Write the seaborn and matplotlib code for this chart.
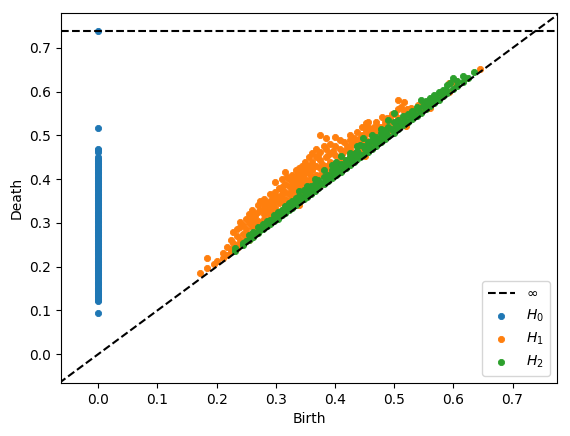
import numpy as np
import pandas as pd
import seaborn as sns
from matplotlib import pyplot as plt

# H0: all born at 0, deaths (last one is the infinite class)
h0_deaths = [0.094, 0.121, 0.124, 0.126, 0.130, 0.133, 0.135, 0.138, 0.140, 0.144,
             0.147, 0.150, 0.152, 0.156, 0.160, 0.163, 0.166, 0.170, 0.173, 0.177,
             0.180, 0.183, 0.186, 0.190, 0.193, 0.197, 0.200, 0.204, 0.207, 0.211,
             0.214, 0.217, 0.220, 0.224, 0.228, 0.231, 0.235, 0.238, 0.241, 0.245,
             0.248, 0.252, 0.255, 0.259, 0.262, 0.266, 0.270, 0.273, 0.276, 0.280,
             0.283, 0.287, 0.290, 0.294, 0.297, 0.301, 0.305, 0.308, 0.312, 0.315,
             0.318, 0.322, 0.325, 0.329, 0.333, 0.337, 0.340, 0.343, 0.346, 0.350,
             0.353, 0.357, 0.360, 0.364, 0.367, 0.371, 0.375, 0.378, 0.382, 0.385,
             0.388, 0.392, 0.395, 0.399, 0.402, 0.406, 0.410, 0.413, 0.416, 0.420,
             0.423, 0.427, 0.430, 0.434, 0.437, 0.441, 0.444, 0.447, 0.450, 0.463,
             0.466, 0.470, 0.518, np.inf]

# H1 (birth, death)
h1 = [(0.172, 0.186), (0.184, 0.220), (0.184, 0.196), (0.195, 0.205), (0.201, 0.212),
      (0.211, 0.232), (0.211, 0.220), (0.218, 0.226), (0.218, 0.245), (0.225, 0.240),
      (0.225, 0.262), (0.225, 0.235), (0.228, 0.280), (0.228, 0.255), (0.235, 0.270),
      (0.235, 0.250), (0.235, 0.285), (0.235, 0.243), (0.240, 0.303), (0.240, 0.290),
      (0.240, 0.260), (0.245, 0.275), (0.245, 0.296), (0.245, 0.255), (0.250, 0.310),
      (0.250, 0.285), (0.250, 0.268), (0.255, 0.300), (0.255, 0.320), (0.255, 0.275),
      (0.255, 0.262), (0.260, 0.330), (0.260, 0.290), (0.260, 0.310), (0.260, 0.270),
      (0.265, 0.315), (0.265, 0.300), (0.265, 0.280), (0.270, 0.340), (0.270, 0.325),
      (0.270, 0.305), (0.270, 0.290), (0.270, 0.280), (0.274, 0.349), (0.274, 0.330),
      (0.274, 0.300), (0.280, 0.355), (0.280, 0.340), (0.280, 0.320), (0.280, 0.310),
      (0.280, 0.293), (0.285, 0.345), (0.285, 0.330), (0.285, 0.300), (0.290, 0.365),
      (0.290, 0.350), (0.290, 0.335), (0.290, 0.315), (0.290, 0.305), (0.295, 0.360),
      (0.295, 0.340), (0.295, 0.325), (0.295, 0.310), (0.299, 0.394), (0.299, 0.370),
      (0.299, 0.352), (0.299, 0.335), (0.299, 0.318), (0.305, 0.380), (0.305, 0.360),
      (0.305, 0.345), (0.305, 0.325), (0.305, 0.315), (0.310, 0.400), (0.310, 0.375),
      (0.310, 0.365), (0.310, 0.350), (0.310, 0.330), (0.310, 0.320), (0.316, 0.417),
      (0.316, 0.390), (0.316, 0.370), (0.316, 0.355), (0.316, 0.340), (0.316, 0.326),
      (0.322, 0.400), (0.322, 0.385), (0.322, 0.365), (0.322, 0.350), (0.322, 0.335),
      (0.328, 0.410), (0.328, 0.395), (0.328, 0.380), (0.328, 0.360), (0.328, 0.345),
      (0.328, 0.338), (0.334, 0.420), (0.334, 0.400), (0.334, 0.385), (0.334, 0.370),
      (0.334, 0.355), (0.334, 0.345), (0.340, 0.425), (0.340, 0.410), (0.340, 0.395),
      (0.340, 0.375), (0.340, 0.360), (0.340, 0.350), (0.345, 0.422), (0.345, 0.430),
      (0.345, 0.405), (0.345, 0.390), (0.345, 0.370), (0.345, 0.358), (0.350, 0.440),
      (0.350, 0.420), (0.350, 0.400), (0.350, 0.385), (0.350, 0.370), (0.350, 0.360),
      (0.356, 0.450), (0.356, 0.430), (0.356, 0.415), (0.356, 0.395), (0.356, 0.380),
      (0.356, 0.368), (0.362, 0.460), (0.362, 0.440), (0.362, 0.420), (0.362, 0.405),
      (0.362, 0.390), (0.362, 0.375), (0.368, 0.470), (0.368, 0.450), (0.368, 0.430),
      (0.368, 0.410), (0.368, 0.395), (0.368, 0.380), (0.375, 0.502), (0.375, 0.463),
      (0.375, 0.445), (0.375, 0.425), (0.375, 0.410), (0.375, 0.390), (0.384, 0.495),
      (0.384, 0.470), (0.384, 0.450), (0.384, 0.430), (0.384, 0.415), (0.384, 0.400),
      (0.392, 0.480), (0.392, 0.460), (0.392, 0.440), (0.392, 0.425), (0.392, 0.410),
      (0.400, 0.497), (0.400, 0.475), (0.400, 0.455), (0.400, 0.435), (0.400, 0.420),
      (0.408, 0.490), (0.408, 0.470), (0.408, 0.450), (0.408, 0.430), (0.416, 0.485),
      (0.416, 0.465), (0.416, 0.445), (0.416, 0.435), (0.426, 0.502), (0.426, 0.490),
      (0.426, 0.470), (0.426, 0.455), (0.426, 0.440), (0.432, 0.495), (0.432, 0.480),
      (0.432, 0.460), (0.432, 0.450), (0.438, 0.509), (0.438, 0.490), (0.438, 0.475),
      (0.438, 0.460), (0.445, 0.520), (0.445, 0.500), (0.445, 0.480), (0.445, 0.465),
      (0.452, 0.529), (0.452, 0.510), (0.452, 0.490), (0.452, 0.475), (0.455, 0.530),
      (0.455, 0.520), (0.462, 0.515), (0.462, 0.500), (0.462, 0.485), (0.470, 0.530),
      (0.470, 0.510), (0.470, 0.490), (0.480, 0.543), (0.480, 0.520), (0.480, 0.500),
      (0.488, 0.540), (0.488, 0.520), (0.488, 0.505), (0.497, 0.550), (0.497, 0.530),
      (0.497, 0.515), (0.506, 0.582), (0.506, 0.560), (0.506, 0.540), (0.506, 0.525),
      (0.516, 0.577), (0.516, 0.555), (0.516, 0.535), (0.528, 0.563), (0.528, 0.550),
      (0.528, 0.540), (0.540, 0.570), (0.540, 0.555), (0.550, 0.575), (0.550, 0.560),
      (0.560, 0.580), (0.560, 0.570), (0.570, 0.590), (0.570, 0.580), (0.580, 0.600),
      (0.580, 0.590), (0.592, 0.620), (0.592, 0.600), (0.605, 0.625), (0.605, 0.615),
      (0.620, 0.632), (0.645, 0.653), (0.340, 0.342), (0.450, 0.452), (0.520, 0.522),
      (0.560, 0.562), (0.262, 0.322), (0.278, 0.330), (0.288, 0.325), (0.302, 0.360),
      (0.313, 0.385), (0.319, 0.405), (0.325, 0.372), (0.331, 0.392), (0.337, 0.412),
      (0.343, 0.382), (0.348, 0.412), (0.353, 0.430), (0.359, 0.405), (0.365, 0.430),
      (0.371, 0.455), (0.378, 0.435), (0.381, 0.475), (0.388, 0.455), (0.396, 0.465),
      (0.404, 0.440), (0.412, 0.458), (0.420, 0.475), (0.429, 0.480), (0.442, 0.495),
      (0.449, 0.500), (0.458, 0.505), (0.466, 0.520), (0.475, 0.520), (0.484, 0.530),
      (0.493, 0.540), (0.502, 0.550), (0.511, 0.565), (0.522, 0.560)]

# H2 (birth, death)
h2 = [(0.231, 0.243), (0.231, 0.236), (0.245, 0.249), (0.245, 0.255), (0.255, 0.262),
      (0.255, 0.272), (0.262, 0.268), (0.262, 0.280), (0.270, 0.278), (0.270, 0.290),
      (0.278, 0.285), (0.278, 0.298), (0.285, 0.292), (0.285, 0.305), (0.290, 0.297),
      (0.290, 0.307), (0.297, 0.304), (0.297, 0.318), (0.303, 0.310), (0.303, 0.325),
      (0.310, 0.317), (0.310, 0.330), (0.316, 0.323), (0.316, 0.338), (0.322, 0.330),
      (0.322, 0.345), (0.328, 0.335), (0.328, 0.350), (0.334, 0.341), (0.334, 0.358),
      (0.340, 0.347), (0.340, 0.362), (0.340, 0.372), (0.347, 0.354), (0.347, 0.376),
      (0.353, 0.360), (0.353, 0.375), (0.353, 0.385), (0.360, 0.367), (0.360, 0.385),
      (0.366, 0.373), (0.366, 0.390), (0.366, 0.400), (0.372, 0.380), (0.372, 0.398),
      (0.381, 0.388), (0.381, 0.405), (0.381, 0.422), (0.388, 0.395), (0.388, 0.410),
      (0.395, 0.402), (0.395, 0.420), (0.395, 0.432), (0.402, 0.410), (0.402, 0.428),
      (0.402, 0.440), (0.410, 0.417), (0.410, 0.435), (0.410, 0.452), (0.418, 0.425),
      (0.418, 0.445), (0.425, 0.432), (0.425, 0.450), (0.425, 0.460), (0.432, 0.440),
      (0.432, 0.458), (0.438, 0.446), (0.438, 0.465), (0.438, 0.475), (0.443, 0.450),
      (0.443, 0.479), (0.448, 0.456), (0.448, 0.475), (0.448, 0.495), (0.455, 0.463),
      (0.455, 0.485), (0.462, 0.470), (0.462, 0.490), (0.462, 0.500), (0.470, 0.477),
      (0.470, 0.497), (0.477, 0.485), (0.477, 0.505), (0.477, 0.515), (0.484, 0.492),
      (0.484, 0.512), (0.490, 0.498), (0.490, 0.520), (0.490, 0.535), (0.499, 0.506),
      (0.499, 0.530), (0.499, 0.552), (0.507, 0.515), (0.507, 0.535), (0.515, 0.523),
      (0.515, 0.545), (0.523, 0.530), (0.523, 0.550), (0.530, 0.537), (0.530, 0.555),
      (0.538, 0.545), (0.538, 0.565), (0.545, 0.552), (0.545, 0.582), (0.553, 0.560),
      (0.553, 0.578), (0.560, 0.567), (0.560, 0.585), (0.568, 0.575), (0.568, 0.592),
      (0.575, 0.582), (0.575, 0.600), (0.583, 0.590), (0.583, 0.605), (0.590, 0.597),
      (0.590, 0.615), (0.595, 0.620), (0.599, 0.606), (0.599, 0.632), (0.607, 0.613),
      (0.607, 0.625), (0.616, 0.622), (0.616, 0.635), (0.625, 0.632), (0.635, 0.646),
      (0.250, 0.258), (0.258, 0.266), (0.266, 0.276), (0.274, 0.284), (0.282, 0.292),
      (0.288, 0.300), (0.294, 0.306), (0.300, 0.314), (0.306, 0.320), (0.313, 0.325),
      (0.319, 0.333), (0.325, 0.340), (0.331, 0.347), (0.337, 0.352), (0.343, 0.358),
      (0.350, 0.366), (0.356, 0.372), (0.363, 0.378), (0.369, 0.385), (0.376, 0.392),
      (0.384, 0.398), (0.391, 0.405), (0.398, 0.414), (0.405, 0.420), (0.414, 0.430),
      (0.421, 0.438), (0.428, 0.445), (0.435, 0.452), (0.441, 0.458), (0.451, 0.468),
      (0.458, 0.476), (0.466, 0.484), (0.473, 0.490), (0.480, 0.498), (0.487, 0.505),
      (0.494, 0.514), (0.503, 0.522), (0.511, 0.528), (0.519, 0.536), (0.527, 0.544),
      (0.534, 0.550), (0.541, 0.560), (0.549, 0.568), (0.557, 0.575), (0.564, 0.580),
      (0.571, 0.588), (0.579, 0.596), (0.587, 0.603)]

x_lim = (-0.063, 0.775)
y_lim = (-0.066, 0.78)
b_inf = 0.738

d0 = pd.DataFrame({'Birth': 0.0, 'Death': h0_deaths})
d0['Death'] = d0['Death'].replace(np.inf, b_inf)
d1 = pd.DataFrame(h1, columns=['Birth', 'Death'])
d2 = pd.DataFrame(h2, columns=['Birth', 'Death'])

colors = sns.color_palette('tab10')

fig = plt.figure(figsize=(5.7, 4.36), dpi=100)
ax = fig.add_axes([0.107, 0.1216, 0.87, 0.8486])

ax.plot([y_lim[0], y_lim[1]], [y_lim[0], y_lim[1]], '--', c='k')
ax.plot([x_lim[0], x_lim[1]], [b_inf, b_inf], '--', c='k', label=r'$\infty$')

for d, c, lab in [(d0, colors[0], r'$H_0$'), (d1, colors[1], r'$H_1$'), (d2, colors[2], r'$H_2$')]:
    sns.scatterplot(data=d, x='Birth', y='Death', color=c, s=20,
                    edgecolor='face', linewidth=0.6, label=lab, ax=ax)

ax.set_xlim(x_lim)
ax.set_ylim(y_lim)
ax.set_xlabel('Birth')
ax.set_ylabel('Death')
ax.legend(loc='lower right')

fig.savefig('out.png', dpi=100)
